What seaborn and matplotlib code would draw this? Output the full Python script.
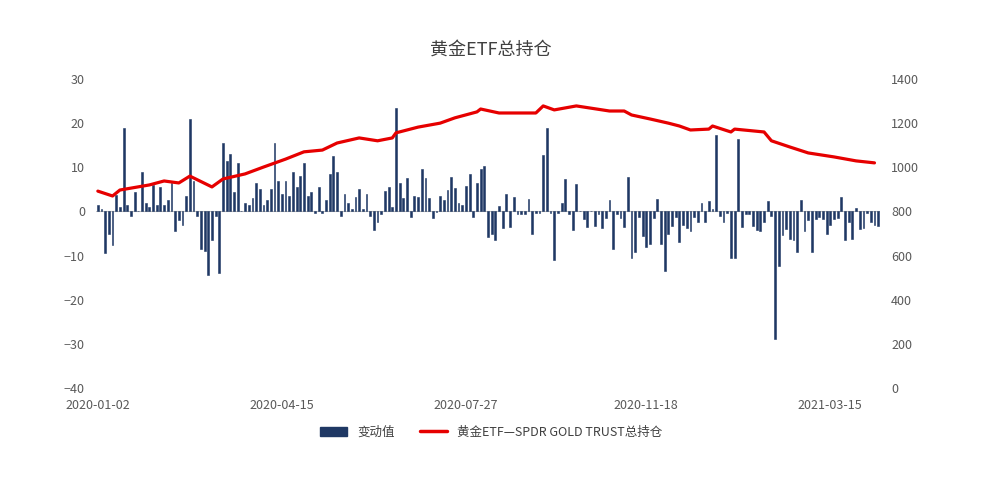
import numpy as np
import pandas as pd
import matplotlib
matplotlib.use("Agg")
import matplotlib.pyplot as plt
import seaborn as sns
from matplotlib.lines import Line2D
from matplotlib.patches import Patch

sns.set_theme(style="white")
plt.rcParams['font.family'] = ['Noto Sans CJK SC', 'DejaVu Sans']

changes = [1.5, 0.5, -9.5, -5, -7.5, 3.8, 1, 19, 1.5, -1, 4.5, 0, 9, 2, 1, 6, 1.5, 5.5, 1.5, 2.5,
           6.5, -4.5, -2, -3, 3.5, 21, 7, -1, -8.5, -9, -14.5, -6.5, -1, -14, 15.5, 11.5, 13, 4.5, 11, 0,
           2, 1.5, 3, 6.5, 5, 1.5, 2.5, 5, 15.5, 7, 4, 7, 3.5,
           9, 5.5, 8, 11, 3.5, 4.5, -0.3, 5.5, -0.3, 2.5, 8.5, 12.5, 9, -1, 4, 2, 0.5, 3.3, 5, 0.5,
           4, -1, -4.3, -2.3, -0.5, 4.7, 5.5, 1, 23.5, 6.5, 3, 7.5, -1.3, 3.5, 3.3, 9.5, 7.5, 3, -1.5,
           -0.2, 3.5, 2.5, 4.8, 7.8, 5.3, 1.8, 1.5, 5.8, 8.5, -1.2, 6.5, 9.5,
           10.3, -5.8, -5, -6.5, 1.3, -3.8, 4, -3.5, 3.2, -0.5, -0.5, -0.5, 2.8, -5, -0.3, -0.3, 12.8, 19,
           -0.3, -11, -0.3, 1.8, 7.3, -0.5, -4.2, 6.2, 0.2, -1.8, -3.5, 0.2, -3.2, -0.5, -3.8, -1.6, 2.7,
           -8.5, -0.5, -1.6, -3.5, 7.8, -10.5, -9.3, -1.3, -5.5, -8, -7.3, -1.5, 2.8, -7.3, -13.5, -5,
           -3.3, -1.3, -7, -3, -3.7, -4.5, -1.2, -2.3, 1.8, -2.3, 2.3, 0.5, 17.3, -1, -2.5, -0.3, -10.5,
           -10.5, 16.5, -3.5, -0.5, -0.5, -3.3, -4.3, -4.5, -2.5, 2.3, -1, -28.8, -12.3, -5.3, -4, -6.3,
           -6.5, -9.3, 2.5, -4.5, -2, -9.3, -1.7, -1.3, -1.7, -5, -3, -1.7, -1.5, 3.3, -6.5, -2.3, -6.3,
           0.7, -4, -3.7, -0.3, -2.5, -3, -3.3]

hold_idx = [0, 4, 6, 14, 18, 22, 25, 31, 34, 40, 45, 51, 56, 61, 65, 71, 76, 80, 81, 87, 93, 97,
            103, 104, 109, 119, 121, 124, 130, 139, 143, 145, 150, 155, 158, 161, 166, 167, 172,
            173, 181, 183, 188, 193, 200, 206, 211]
holdings = [892, 870, 897, 920, 938, 929, 960, 911, 947, 970, 1001, 1037, 1070, 1078, 1110, 1133,
            1120, 1133, 1156, 1182, 1200, 1224, 1251, 1264, 1246, 1246, 1278, 1260, 1278, 1255, 1255,
            1237, 1219, 1200, 1187, 1169, 1173, 1187, 1160, 1173, 1160, 1120, 1092, 1065, 1047,
            1029, 1020]

tick_labels = ["2020-01-02", "2020-04-15", "2020-07-27", "2020-11-18", "2021-03-15"]
tick_pos = [0, 50, 100, 149, 199]

n = len(changes)
df = pd.DataFrame({"i": np.arange(n), "v": changes})
hd = pd.DataFrame({"i": hold_idx[:len(holdings)], "h": holdings})
hd["i"] = hd["i"].clip(upper=n - 1)

bar_color = "#1f3864"
line_color = "#e60000"

fig = plt.figure(figsize=(9.82, 4.82), dpi=100)
ax = fig.add_axes([96 / 982, 1 - 388 / 482, (880 - 96) / 982, (388 - 79) / 482])
sns.barplot(data=df, x="i", y="v", color=bar_color, width=0.5, ax=ax, saturation=1,
            edgecolor=bar_color, linewidth=0.4)
ax.set_xlim(-0.5, n - 0.5)
ax.set_ylim(-40, 30)
ax.set_yticks(range(-40, 31, 10))
ax.set_xticks(tick_pos)
ax.set_xticklabels(tick_labels)
ax.set_xlabel("")
ax.set_ylabel("")
ax.axhline(0, color="#bfbfbf", lw=0.8, zorder=0)
for s in ax.spines.values():
    s.set_visible(False)
ax.tick_params(axis="both", length=0, labelsize=9, colors="#595959", pad=8)

ax2 = ax.twinx()
sns.lineplot(data=hd, x="i", y="h", color=line_color, lw=2.3, ax=ax2)
ax2.set_ylim(0, 1400)
ax2.set_yticks(range(0, 1401, 200))
ax2.set_ylabel("")
for s in ax2.spines.values():
    s.set_visible(False)
ax2.tick_params(axis="y", length=0, labelsize=9, colors="#595959", pad=8)
ax.set_xlim(-0.5, n - 0.5)

fig.text(0.5, 1 - 50 / 482, "黄金ETF总持仓", ha="center", va="center", fontsize=13, color="#404040")
handles = [Patch(color=bar_color, label="变动值"),
           Line2D([0], [0], color=line_color, lw=2.5, label="黄金ETF—SPDR GOLD TRUST总持仓")]
fig.legend(handles=handles, loc="center", bbox_to_anchor=(0.5, 1 - 432 / 482), ncol=2,
           frameon=False, fontsize=9, handlelength=2.2, columnspacing=2, labelcolor="#404040")
fig.savefig("out.png", dpi=100)
